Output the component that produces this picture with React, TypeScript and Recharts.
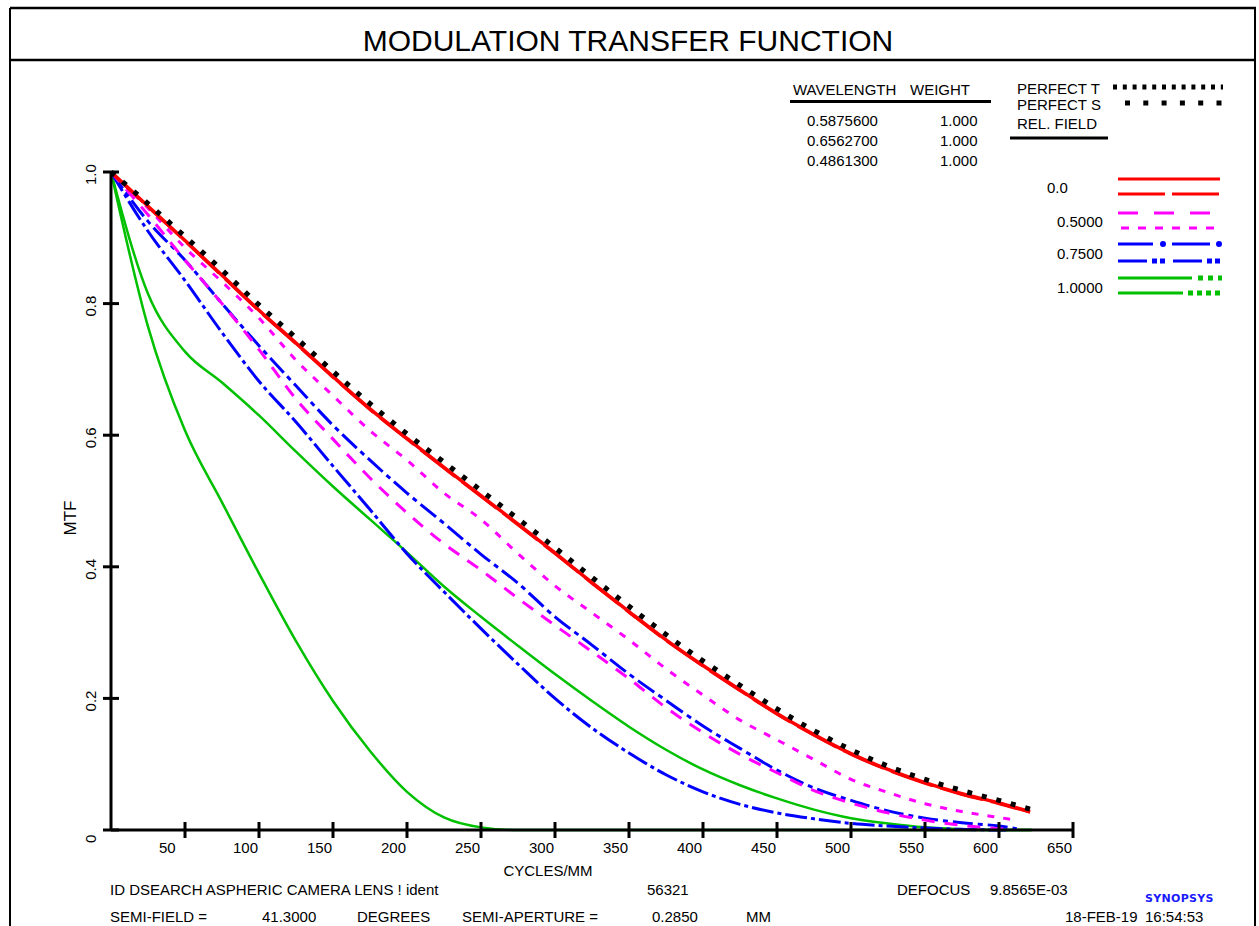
import { LineChart, Line, XAxis, YAxis } from 'recharts';

// spatial frequency grid (cycles/mm)
const cycles = [0, 25, 50, 75, 100, 125, 150, 175, 200, 225, 250, 275, 300, 325, 350, 375, 400, 425, 450, 475, 500, 525, 550, 575, 600];

// MTF values on the grid above, last entry is the value at the series end point
const perfect = [1.0, 0.952, 0.902, 0.851, 0.798, 0.748, 0.697, 0.648, 0.602, 0.559, 0.516, 0.473, 0.429, 0.384, 0.34, 0.297, 0.257, 0.22, 0.184, 0.151, 0.122, 0.097, 0.077, 0.06, 0.045, 0.031];
const redT = [1.0, 0.948, 0.896, 0.843, 0.79, 0.74, 0.689, 0.64, 0.595, 0.551, 0.508, 0.465, 0.421, 0.376, 0.332, 0.289, 0.25, 0.213, 0.177, 0.145, 0.116, 0.092, 0.072, 0.055, 0.041, 0.028];
const redS = [1.0, 0.947, 0.895, 0.842, 0.789, 0.739, 0.688, 0.639, 0.594, 0.55, 0.507, 0.464, 0.42, 0.375, 0.331, 0.288, 0.249, 0.212, 0.176, 0.144, 0.115, 0.091, 0.071, 0.054, 0.04, 0.027];
const magentaT = [1.0, 0.935, 0.866, 0.8, 0.73, 0.655, 0.594, 0.535, 0.482, 0.435, 0.395, 0.352, 0.311, 0.271, 0.23, 0.186, 0.148, 0.115, 0.087, 0.06, 0.041, 0.026, 0.015, 0.007, 0.002, 0.001];
const magentaS = [1.0, 0.945, 0.885, 0.833, 0.778, 0.714, 0.66, 0.607, 0.562, 0.512, 0.472, 0.42, 0.371, 0.33, 0.289, 0.245, 0.205, 0.167, 0.137, 0.107, 0.077, 0.057, 0.04, 0.028, 0.019, 0.015];
const blueT = [1.0, 0.91, 0.835, 0.756, 0.682, 0.62, 0.553, 0.487, 0.42, 0.362, 0.306, 0.252, 0.2, 0.155, 0.117, 0.084, 0.058, 0.039, 0.026, 0.017, 0.01, 0.006, 0.003, 0.001, 0, 0];
const blueS = [1.0, 0.925, 0.866, 0.8, 0.736, 0.675, 0.615, 0.562, 0.512, 0.466, 0.419, 0.375, 0.324, 0.281, 0.237, 0.197, 0.158, 0.124, 0.091, 0.064, 0.045, 0.029, 0.018, 0.011, 0.006, 0.002];
const greenT = [1.0, 0.815, 0.727, 0.68, 0.63, 0.575, 0.522, 0.472, 0.422, 0.37, 0.324, 0.28, 0.237, 0.196, 0.157, 0.122, 0.092, 0.068, 0.048, 0.031, 0.018, 0.01, 0.004, 0.001, 0, 0];
const greenS = [1.0, 0.765, 0.607, 0.498, 0.39, 0.287, 0.196, 0.12, 0.058, 0.019, 0.004, 0, 0, 0, 0, 0, 0, 0, 0, 0, 0, 0, 0, 0, 0, 0];

// where each curve stops (cycles/mm)
const endCycles = { perfect: 622, redT: 621, redS: 621, magentaT: 605, magentaS: 612, blueT: 605, blueS: 612, greenT: 622, greenS: 622 };

const xTicks = [50, 100, 150, 200, 250, 300, 350, 400, 450, 500, 550, 600, 650];
const yTicks = [0, 0.2, 0.4, 0.6, 0.8, 1.0];
const yTickLabels = ['0', '0.2', '0.4', '0.6', '0.8', '1.0'];

const wavelengths = ['0.5875600', '0.6562700', '0.4861300'];
const weights = ['1.000', '1.000', '1.000'];
const fieldLabels = ['0.0', '0.5000', '0.7500', '1.0000'];

const FONT = '"Liberation Sans", Arial, Helvetica, sans-serif';

const toPoints = (values: number[], end: number) =>
  [...cycles, end].map((f, i) => ({ f, v: values[i] }));

const series = [
  { name: 'greenS', values: greenS, end: endCycles.greenS, color: '#00c000', width: 2.5, dash: undefined },
  { name: 'greenT', values: greenT, end: endCycles.greenT, color: '#00c000', width: 2.5, dash: undefined },
  { name: 'blueT', values: blueT, end: endCycles.blueT, color: '#0000ff', width: 3, dash: '22 4 4 4' },
  { name: 'blueS', values: blueS, end: endCycles.blueS, color: '#0000ff', width: 3, dash: '20 5 5 5' },
  { name: 'magentaT', values: magentaT, end: endCycles.magentaT, color: '#ff00ff', width: 3, dash: '13 10' },
  { name: 'magentaS', values: magentaS, end: endCycles.magentaS, color: '#ff00ff', width: 3, dash: '7 9' },
  { name: 'redS', values: redS, end: endCycles.redS, color: '#ff0000', width: 3, dash: '44 8' },
  { name: 'redT', values: redT, end: endCycles.redT, color: '#ff0000', width: 3.5, dash: undefined },
  { name: 'perfect', values: perfect, end: endCycles.perfect, color: '#000000', width: 5, dash: '5 10' },
];

const XTick = (props: any) => {
  const { x, y, payload } = props;
  return (
    <g>
      <line x1={x} x2={x} y1={y - 8} y2={y + 8} stroke="#000" strokeWidth={3} />
      <text x={x - 26} y={y + 23} fontSize={15} fontFamily={FONT} fill="#000">{payload.value}</text>
    </g>
  );
};

const YTick = (props: any) => {
  const { x, y, payload } = props;
  const label = yTickLabels[yTicks.indexOf(payload.value)] ?? String(payload.value);
  return (
    <g>
      <line x1={x - 8} x2={x + 8} y1={y} y2={y} stroke="#000" strokeWidth={3} />
      <text
        transform={`translate(${x - 21},${y + 13}) rotate(-90)`}
        fontSize={15}
        fontFamily={FONT}
        fill="#000"
        textAnchor="start"
        dominantBaseline="central"
      >
        {label}
      </text>
    </g>
  );
};

const txt = { fontFamily: FONT, fontSize: 15, fill: '#000' };

const App = () => {
  return (
    <div style={{ position: 'absolute', left: 0, top: 0, width: 1259, height: 926, background: '#fff' }}>
      <LineChart width={1259} height={926} margin={{ top: 172, right: 186, bottom: 66, left: 71 }}>
        <XAxis
          type="number"
          dataKey="f"
          domain={[0, 650]}
          ticks={xTicks}
          allowDataOverflow
          height={30}
          tickSize={0}
          tickMargin={0}
          tickLine={false}
          axisLine={{ stroke: '#000', strokeWidth: 3 }}
          tick={<XTick />}
          interval={0}
        />
        <YAxis
          type="number"
          dataKey="v"
          domain={[0, 1]}
          ticks={yTicks}
          width={40}
          tickSize={0}
          tickMargin={0}
          tickLine={false}
          axisLine={{ stroke: '#000', strokeWidth: 3 }}
          tick={<YTick />}
          interval={0}
        />
        {series.map((s) => (
          <Line
            key={s.name}
            data={toPoints(s.values, s.end)}
            dataKey="v"
            type="monotone"
            stroke={s.color}
            strokeWidth={s.width}
            strokeDasharray={s.dash}
            dot={false}
            activeDot={false}
            isAnimationActive={false}
          />
        ))}
      </LineChart>

      <svg width={1259} height={926} style={{ position: 'absolute', left: 0, top: 0, pointerEvents: 'none' }}>
        {/* frame */}
        <line x1={10} x2={1256} y1={8} y2={8} stroke="#000" strokeWidth={2.5} />
        <line x1={10} x2={10} y1={8} y2={926} stroke="#000" strokeWidth={2} />
        <line x1={1255} x2={1255} y1={8} y2={926} stroke="#000" strokeWidth={2} />
        <line x1={10} x2={1256} y1={60} y2={60} stroke="#000" strokeWidth={2.5} />
        <text x={628} y={51} textAnchor="middle" fontFamily={FONT} fontSize={30} fill="#000">MODULATION TRANSFER FUNCTION</text>

        {/* wavelength table */}
        <text x={793} y={94.5} {...txt}>WAVELENGTH</text>
        <text x={910} y={94.5} {...txt}>WEIGHT</text>
        <line x1={790} x2={991} y1={101.5} y2={101.5} stroke="#000" strokeWidth={3} />
        {wavelengths.map((w, i) => (
          <g key={w}>
            <text x={807} y={125.5 + i * 20.3} {...txt}>{w}</text>
            <text x={940} y={125.5 + i * 20.3} {...txt}>{weights[i]}</text>
          </g>
        ))}

        {/* perfect / field legend */}
        <text x={1017} y={93.5} {...txt}>PERFECT T</text>
        <text x={1017} y={110} {...txt}>PERFECT S</text>
        <text x={1017} y={128.5} {...txt}>REL. FIELD</text>
        <line x1={1010} x2={1108} y1={138} y2={138} stroke="#000" strokeWidth={3} />
        <line x1={1113} x2={1223} y1={87} y2={87} stroke="#000" strokeWidth={5} strokeDasharray="4 5.8" />
        <line x1={1125} x2={1223} y1={103} y2={103} stroke="#000" strokeWidth={5} strokeDasharray="5 13.3" />

        <text x={1047} y={192.5} {...txt}>{fieldLabels[0]}</text>
        <line x1={1118} x2={1220} y1={179} y2={179} stroke="#ff0000" strokeWidth={3} />
        <line x1={1118} x2={1220} y1={194} y2={194} stroke="#ff0000" strokeWidth={3} strokeDasharray="47 7" />

        <text x={1057} y={226.5} {...txt}>{fieldLabels[1]}</text>
        <line x1={1118} x2={1212} y1={213} y2={213} stroke="#ff00ff" strokeWidth={3} strokeDasharray="20 16" />
        <line x1={1121} x2={1221} y1={228} y2={228} stroke="#ff00ff" strokeWidth={3} strokeDasharray="8 9" />

        <text x={1057} y={258.5} {...txt}>{fieldLabels[2]}</text>
        <line x1={1118} x2={1153} y1={244} y2={244} stroke="#0000ff" strokeWidth={3} />
        <circle cx={1163} cy={244} r={3} fill="#0000ff" />
        <line x1={1172} x2={1210} y1={244} y2={244} stroke="#0000ff" strokeWidth={3} />
        <circle cx={1219} cy={244} r={3} fill="#0000ff" />
        <line x1={1118} x2={1147} y1={261} y2={261} stroke="#0000ff" strokeWidth={3} />
        <line x1={1152} x2={1165} y1={261} y2={261} stroke="#0000ff" strokeWidth={5} strokeDasharray="5 3" />
        <line x1={1173} x2={1202} y1={261} y2={261} stroke="#0000ff" strokeWidth={3} />
        <line x1={1207} x2={1222} y1={261} y2={261} stroke="#0000ff" strokeWidth={5} strokeDasharray="5 3" />

        <text x={1057} y={292.5} {...txt}>{fieldLabels[3]}</text>
        <line x1={1118} x2={1192} y1={278} y2={278} stroke="#00c000" strokeWidth={3} />
        <line x1={1198} x2={1222} y1={278} y2={278} stroke="#00c000" strokeWidth={5} strokeDasharray="5 5" />
        <line x1={1118} x2={1183} y1={293} y2={293} stroke="#00c000" strokeWidth={3} />
        <line x1={1188} x2={1222} y1={293} y2={293} stroke="#00c000" strokeWidth={5} strokeDasharray="5 4" />

        {/* axis titles */}
        <text transform="translate(70,518) rotate(-90)" textAnchor="middle" dominantBaseline="central" fontFamily={FONT} fontSize={17} fill="#000">MTF</text>
        <text x={548} y={876} textAnchor="middle" {...txt}>CYCLES/MM</text>

        {/* footer */}
        <text x={110} y={895} {...txt}>ID DSEARCH ASPHERIC CAMERA LENS ! ident</text>
        <text x={647} y={895} {...txt}>56321</text>
        <text x={897} y={895} {...txt}>DEFOCUS</text>
        <text x={990} y={895} {...txt}>9.8565E-03</text>
        <text x={1145} y={902} fontFamily="'DejaVu Sans', sans-serif" fontWeight={900} fontSize={11} letterSpacing={0.3} fill="#1a1aff">SYNOPSYS</text>
        <text x={110} y={922} {...txt}>SEMI-FIELD =</text>
        <text x={262} y={922} {...txt}>41.3000</text>
        <text x={357} y={922} {...txt}>DEGREES</text>
        <text x={462} y={922} {...txt}>SEMI-APERTURE =</text>
        <text x={652} y={922} {...txt}>0.2850</text>
        <text x={746} y={922} {...txt}>MM</text>
        <text x={1065} y={922} {...txt}>18-FEB-19</text>
        <text x={1145} y={922} {...txt}>16:54:53</text>
      </svg>
    </div>
  );
};

export default App;
